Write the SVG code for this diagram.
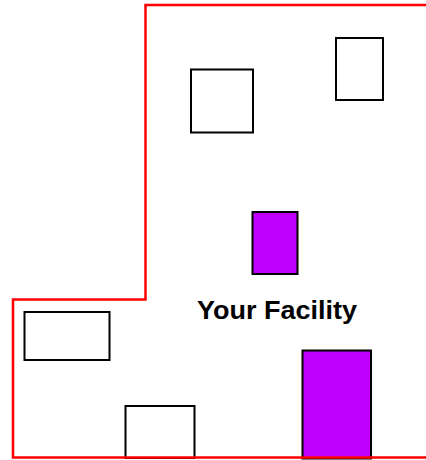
<svg xmlns="http://www.w3.org/2000/svg" width="426" height="460" viewBox="0 0 426 460">
<style>
.b{fill:#fff;stroke:#000;stroke-width:2}
.p{fill:#BF00FF;stroke:#000;stroke-width:2}
.o{fill:none;stroke:#FF0000;stroke-width:2.5}
.t{font-family:"Liberation Sans",Arial,sans-serif;font-weight:bold;font-size:26.5px;fill:#000}
</style>
<rect width="426" height="460" fill="#fff"/>
<g id="bldg1"><rect class="b" x="24.5" y="312" width="85" height="48"/></g>
<g id="bldg2"><rect class="b" x="125.5" y="406" width="69" height="52"/></g>
<g id="bldg3"><rect class="b" x="191" y="69.5" width="62" height="63"/></g>
<g id="bldg4"><rect class="b" x="336" y="38" width="47" height="62"/></g>
<g id="facility1"><rect class="p" x="252.5" y="212" width="45" height="62"/></g>
<g id="facility2"><rect class="p" x="302.5" y="350.5" width="68.5" height="108"/></g>
<g id="boundary"><path class="o" d="M430,5 H145.5 V299.5 H13 V457.5 H430"/></g>
<g id="label"><text class="t" x="197" y="319" textLength="160" lengthAdjust="spacingAndGlyphs">Your Facility</text></g>
</svg>
